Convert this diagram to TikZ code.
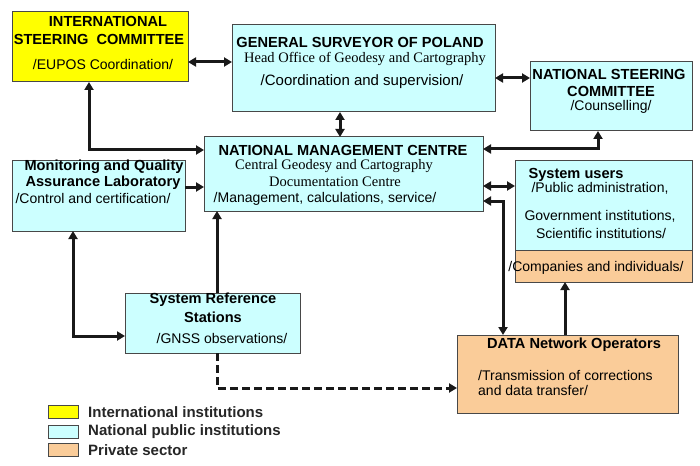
\documentclass[tikz,border=0pt]{standalone}
\usepackage{fontspec}
\setmainfont{Liberation Sans}
\newfontfamily\serifx{Liberation Serif}
\usetikzlibrary{arrows.meta}
\definecolor{cyanb}{HTML}{CCFFFF}
\definecolor{orangeb}{HTML}{FACC99}
\definecolor{yellowb}{HTML}{FFFF00}
\definecolor{edge}{HTML}{484848}
\begin{document}
\begin{tikzpicture}[x=1pt,y=-1pt,
  box/.style={draw=edge, line width=1pt, inner sep=0, outer sep=0},
  ttl/.style={font=\bfseries\fontsize{14.6}{16}\selectfont, inner sep=0},
  txt/.style={font=\fontsize{14}{16}\selectfont, inner sep=0},
  ser/.style={font=\serifx\fontsize{14.5}{16}\selectfont, inner sep=0},
  con/.style={line width=3pt, draw=black!90},
  bi/.style={con, {Triangle[length=8pt,width=9pt]}-{Triangle[length=8pt,width=9pt]}},
  uni/.style={con, -{Triangle[length=8pt,width=9pt]}},
  sw/.style={draw=edge, line width=1pt, minimum width=30pt, minimum height=13pt, inner sep=0},
  leg/.style={font=\bfseries\fontsize{15}{17}\selectfont, inner sep=0, anchor=west, text=black!85},
]
\useasboundingbox[fill=white] (0,0) rectangle (700,465);

% boxes
\node[box, fill=yellowb, minimum width=176pt, minimum height=70pt] (isc) at (100,47) {};
\node[box, fill=cyanb, minimum width=263pt, minimum height=87pt] (gsp) at (363.5,68.5) {};
\node[box, fill=cyanb, minimum width=162pt, minimum height=69pt] (nsc) at (611,96.5) {};
\node[box, fill=cyanb, minimum width=279pt, minimum height=74pt] (nmc) at (343.5,174) {};
\node[box, fill=cyanb, minimum width=173pt, minimum height=71pt] (mqal) at (98.5,195.5) {};
\node[box, fill=cyanb, minimum width=177pt, minimum height=90pt] (su) at (603.5,205) {};
\node[box, fill=orangeb, minimum width=177pt, minimum height=32pt] (suc) at (603.5,266) {};
\node[box, fill=cyanb, minimum width=175pt, minimum height=60pt] (srs) at (212.5,323) {};
\node[box, fill=orangeb, minimum width=221pt, minimum height=78pt] (dno) at (567.5,374) {};

% texts
\node[ttl] (isct1) at (108,21) {INTERNATIONAL};
\node[ttl] (isct2) at (99,39) {STEERING\ \ COMMITTEE};
\node[txt] (isct3) at (103,64) {/EUPOS Coordination/};

\node[ttl] (gspt1) at (360,42) {GENERAL SURVEYOR OF POLAND};
\node[ser] (gspt2) at (365,59) {Head Office of Geodesy and Cartography};
\node[txt, font=\fontsize{15}{17}\selectfont] (gspt3) at (362,82) {/Coordination and supervision/};

\node[ttl] (nsct1) at (609,74) {NATIONAL STEERING};
\node[ttl] (nsct2) at (611,91) {COMMITTEE};
\node[txt] (nsct3) at (611,107) {/Counselling/};

\node[ttl] (nmct1) at (343,150) {NATIONAL MANAGEMENT CENTRE};
\node[ser] (nmct2) at (334,166.5) {Central Geodesy and Cartography};
\node[ser] (nmct3) at (335,182) {Documentation Centre};
\node[txt] (nmct4) at (325,198.5) {/Management, calculations, service/};

\node[ttl] (mqalt1) at (104,167) {Monitoring and Quality};
\node[ttl] (mqalt2) at (103,183) {Assurance Laboratory};
\node[txt] (mqalt3) at (93,198.5) {/Control and certification/};

\node[ttl] (sut1) at (576,175) {System users};
\node[txt] (sut2) at (600,188) {/Public administration,};
\node[txt] (sut3) at (600,216) {Government institutions,};
\node[txt] (sut4) at (601,233) {Scientific institutions/};
\node[txt] (suct) at (596,268) {/Companies and individuals/};

\node[ttl] (srst1) at (213,300) {System Reference};
\node[ttl] (srst2) at (213,317) {Stations};
\node[txt] (srst3) at (222,338) {/GNSS observations/};

\node[ttl] (dnot1) at (574,345) {DATA Network Operators};
\node[txt, anchor=west] (dnot2) at (478,375) {/Transmission of corrections};
\node[txt, anchor=west] (dnot3) at (478,390) {and data transfer/};

% connectors
\draw[bi] (isc.east |- 0,62) -- (gsp.west |- 0,62);
\draw[bi] (gsp.east |- 0,78) -- (nsc.west |- 0,78);
\draw[bi] (gsp.south -| 340,0) -- (nmc.north -| 340,0);
\draw[bi] (isc.south -| 89,0) |- (nmc.west |- 0,150);
\draw[uni] (mqal.east |- 0,187) -- (nmc.west |- 0,187);
\draw[bi] (nmc.east |- 0,149) -| (nsc.south -| 598,0);
\draw[bi] (nmc.east |- 0,186) -- (su.west |- 0,186);
\draw[bi] (dno.north -| 503,0) |- (nmc.east |- 0,201);
\draw[uni] (dno.north -| 565,0) -- (suc.south -| 565,0);
\draw[uni] (srs.north -| 217,0) -- (nmc.south -| 217,0);
\draw[bi] (mqal.south -| 73,0) |- (srs.west |- 0,336);
\draw[uni, dash pattern=on 8pt off 4pt] (srs.south -| 217,0) |- (dno.west |- 0,388);

% legend
\node[sw, fill=yellowb] (lg1) at (63,411.5) {};
\node[sw, fill=cyanb] (lg2) at (63,431.5) {};
\node[sw, fill=orangeb] (lg3) at (63,450) {};
\node[leg] (lgt1) at (88,412) {International institutions};
\node[leg] (lgt2) at (88,432) {National public institutions};
\node[leg] (lgt3) at (88,450) {Private sector};
\end{tikzpicture}
\end{document}
